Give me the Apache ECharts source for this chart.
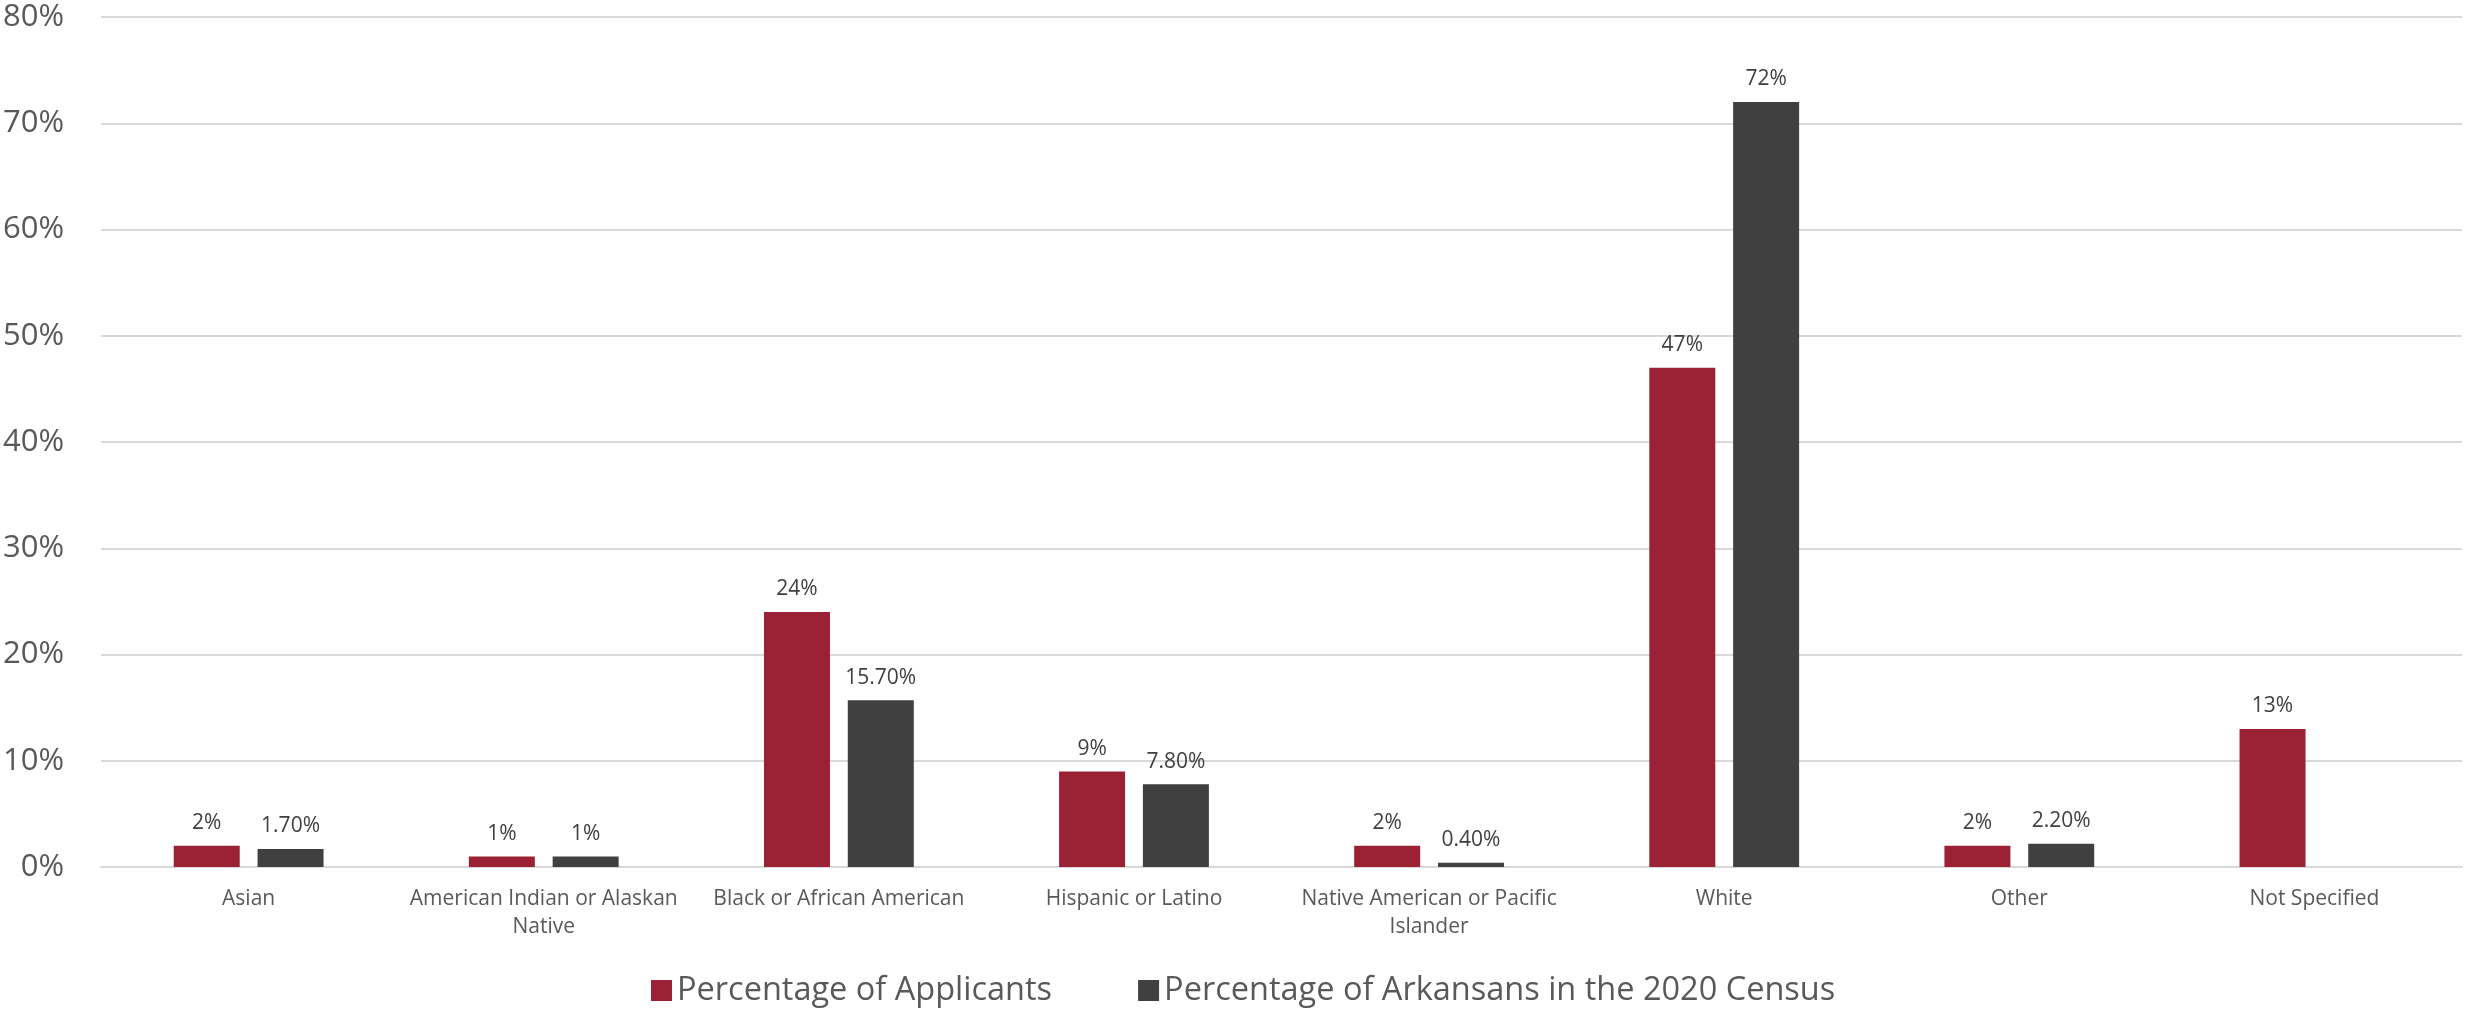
<!DOCTYPE html>
<html>
<head>
<meta charset="utf-8">
<script src="https://cdn.jsdelivr.net/npm/echarts@6/dist/echarts.min.js"></script>
<style>
html,body{margin:0;padding:0;background:#fff;}
#chart{width:2465px;height:1009px;}
</style>
</head>
<body>
<div id="chart"></div>
<script>
const categories = ["Asian", "American Indian or Alaskan Native", "Black or African American", "Hispanic or Latino", "Native American or Pacific Islander", "White", "Other", "Not Specified"];
const categoryLabels = ["Asian", "American Indian or Alaskan\nNative", "Black or African American", "Hispanic or Latino", "Native American or Pacific\nIslander", "White", "Other", "Not Specified"];
const applicants = [2, 1, 24, 9, 2, 47, 2, 13];
const applicantLabels = ["2%", "1%", "24%", "9%", "2%", "47%", "2%", "13%"];
const census = [1.7, 1, 15.7, 7.8, 0.4, 72, 2.2, null];
const censusLabels = ["1.70%", "1%", "15.70%", "7.80%", "0.40%", "72%", "2.20%", ""];
const seriesNames = ["Percentage of Applicants", "Percentage of Arkansans in the 2020 Census"];
const yTicks = [0, 10, 20, 30, 40, 50, 60, 70, 80];

const FONT = "'Open Sans', sans-serif";
const chart = echarts.init(document.getElementById('chart'), null, {renderer: 'canvas'});
chart.setOption({
  animation: false,
  textStyle: {fontFamily: FONT},
  grid: {left: 100, right: 3, top: 17, bottom: 142, containLabel: false},
  legend: {
    data: seriesNames,
    left: 646, top: 969,
    itemWidth: 21, itemHeight: 21, itemGap: 86,
    icon: 'rect',
    textStyle: {fontFamily: FONT, fontSize: 32.5, color: '#595959', padding: [0, 0, 0, 0]}
  },
  xAxis: {
    type: 'category',
    data: categories,
    axisLine: {show: true, lineStyle: {color: '#d9d9d9', width: 2}},
    axisTick: {show: false},
    axisLabel: {
      interval: 0,
      margin: 18,
      fontFamily: FONT, fontSize: 21, color: '#595959', lineHeight: 28,
      formatter: (v, i) => categoryLabels[i]
    }
  },
  yAxis: {
    type: 'value',
    min: yTicks[0], max: yTicks[yTicks.length - 1], interval: 10,
    axisLine: {show: false},
    axisTick: {show: false},
    splitLine: {lineStyle: {color: '#d9d9d9', width: 2}},
    axisLabel: {margin: 37, fontFamily: FONT, fontSize: 31, color: '#595959', formatter: v => v + '%'}
  },
  series: [
    {
      name: seriesNames[0], type: 'bar', data: applicants,
      barWidth: 66, barGap: '27%',
      itemStyle: {color: '#9b2235'},
      label: {show: true, position: 'top', distance: 12, fontFamily: FONT, fontSize: 21, color: '#404040',
        formatter: p => applicantLabels[p.dataIndex]}
    },
    {
      name: seriesNames[1], type: 'bar', data: census,
      barWidth: 66,
      itemStyle: {color: '#404040'},
      label: {show: true, position: 'top', distance: 12, fontFamily: FONT, fontSize: 21, color: '#404040',
        formatter: p => censusLabels[p.dataIndex]}
    }
  ]
});
</script>
</body>
</html>
